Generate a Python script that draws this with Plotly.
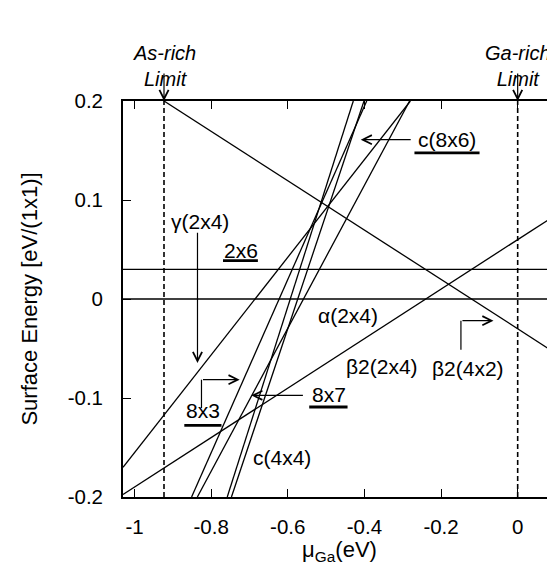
import plotly.graph_objects as go

# ---- data ----
# straight energy lines, given by their two end points (x in eV, y in eV/(1x1))
line_names = ["α(2x4)", "2x6", "β2(2x4)", "β2(4x2)", "γ(2x4)", "8x3", "8x7", "c(4x4) a", "c(4x4) b"]
line_x0 = [-1.03, -1.03, -1.03, -0.923, -1.03, -0.836, -0.851, -0.758, -0.747]
line_y0 = [0.0, 0.03, -0.1975, 0.2, -0.170, -0.2, -0.2, -0.2, -0.2]
line_x1 = [0.1, 0.1, 0.1, 0.1, -0.28, -0.282, -0.394, -0.429, -0.401]
line_y1 = [0.0, 0.03, 0.085, -0.055, 0.2, 0.2, 0.2, 0.2, 0.2]

# stability limits
limit_x = [-0.923, 0.0]
limit_text = ["As-rich<br>Limit", "Ga-rich<br>Limit"]

# axis ticks
x_ticks = [-1.0, -0.8, -0.6, -0.4, -0.2, 0.0]
x_tick_text = ["-1", "-0.8", "-0.6", "-0.4", "-0.2", "0"]
y_ticks = [-0.2, -0.1, 0.0, 0.1, 0.2]
y_tick_text = ["-0.2", "-0.1", "0", "0.1", "0.2"]

# text labels inside the plot
label_text = ["γ(2x4)", "2x6", "α(2x4)", "β2(2x4)", "β2(4x2)", "8x3", "8x7", "c(4x4)", "c(8x6)"]
label_x = [-0.829, -0.723, -0.444, -0.353, -0.130, -0.822, -0.4935, -0.616, -0.1844]
label_y = [0.078, 0.0485, -0.0167, -0.0677, -0.0697, -0.113, -0.0965, -0.1606, 0.1609]

# underlines of new structures (x start, x end, y)
ul_x0 = [-0.769, -0.870, -0.544, -0.2694]
ul_x1 = [-0.678, -0.773, -0.444, -0.0995]
ul_y = [0.0387, -0.1276, -0.1091, 0.1475]

# straight arrows (tail -> head)
arr_tx = [-0.8356, -0.5566, -0.2753]
arr_ty = [0.0684, -0.0973, 0.1609]
arr_hx = [-0.8356, -0.6953, -0.4096]
arr_hy = [-0.0646, -0.0973, 0.1609]
# bent arrows: vertical stem (x, y bottom, y corner) then horizontal to head x
bent_x = [-0.8252, -0.1481]
bent_yb = [-0.1101, -0.0512]
bent_yc = [-0.0815, -0.0219]
bent_hx = [-0.7255, -0.0631]

FONT = "Liberation Sans, Arial, sans-serif"
ARROW = dict(showarrow=True, arrowhead=5, arrowsize=1.5, arrowwidth=1.2, arrowcolor="black")

fig = go.Figure()
for i in range(len(line_names)):
    fig.add_trace(go.Scatter(
        x=[line_x0[i], line_x1[i]], y=[line_y0[i], line_y1[i]],
        mode="lines", line=dict(color="black", width=1.3),
        name=line_names[i], showlegend=False, hoverinfo="skip"))

for lx in limit_x:
    fig.add_trace(go.Scatter(
        x=[lx, lx], y=[-0.2, 0.2], mode="lines",
        line=dict(color="black", width=1.6, dash="5px,3px"),
        showlegend=False, hoverinfo="skip"))

ann = []
for lx, lt in zip(limit_x, limit_text):
    ann.append(dict(x=lx, y=1.155, xref="x", yref="paper", text="<i>" + lt + "</i>",
                    showarrow=False, font=dict(family=FONT, size=20, color="black")))
    ann.append(dict(x=lx, y=1.0, xref="x", yref="paper", ax=0, ay=-29, text="", **ARROW))

for t, x, y in zip(label_text, label_x, label_y):
    ann.append(dict(x=x, y=y, xref="x", yref="y", text=t, showarrow=False,
                    font=dict(family=FONT, size=21, color="black")))

for i in range(len(arr_tx)):
    ann.append(dict(x=arr_hx[i], y=arr_hy[i], ax=arr_tx[i], ay=arr_ty[i],
                    xref="x", yref="y", axref="x", ayref="y", text="", **ARROW))

shapes = []
for i in range(len(bent_x)):
    shapes.append(dict(type="line", xref="x", yref="y", x0=bent_x[i], x1=bent_x[i],
                       y0=bent_yb[i], y1=bent_yc[i], line=dict(color="black", width=1.2)))
    ann.append(dict(x=bent_hx[i], y=bent_yc[i], ax=bent_x[i], ay=bent_yc[i],
                    xref="x", yref="y", axref="x", ayref="y", text="", **ARROW))

for i in range(len(ul_x0)):
    shapes.append(dict(type="line", xref="x", yref="y", x0=ul_x0[i], x1=ul_x1[i],
                       y0=ul_y[i], y1=ul_y[i], line=dict(color="black", width=2.8)))

fig.update_layout(
    width=555, height=565,
    margin=dict(l=115, r=5, t=93, b=76),
    paper_bgcolor="white", plot_bgcolor="white",
    annotations=ann, shapes=shapes,
    font=dict(family=FONT, size=20, color="black"),
    xaxis=dict(range=[-1.03, 0.1], tickvals=x_ticks, ticktext=x_tick_text,
               ticks="inside", ticklen=8, tickwidth=1.3, tickcolor="black",
               showline=True, linewidth=1.8, linecolor="black", mirror="ticks",
               showgrid=False, zeroline=False, ticklabelstandoff=10,
               tickfont=dict(family=FONT, size=20.5),
               title=dict(text="μ<sub>Ga</sub>(eV)", font=dict(family=FONT, size=22), standoff=4)),
    yaxis=dict(range=[-0.2, 0.2], tickvals=y_ticks, ticktext=y_tick_text,
               ticks="inside", ticklen=8, tickwidth=1.3, tickcolor="black",
               showline=True, linewidth=1.8, linecolor="black", mirror="ticks",
               showgrid=False, zeroline=False, ticklabelstandoff=14,
               tickfont=dict(family=FONT, size=20.5),
               title=dict(text="Surface Energy [eV/(1x1)]", font=dict(family=FONT, size=22), standoff=24)),
)

fig.write_html("out.html")
